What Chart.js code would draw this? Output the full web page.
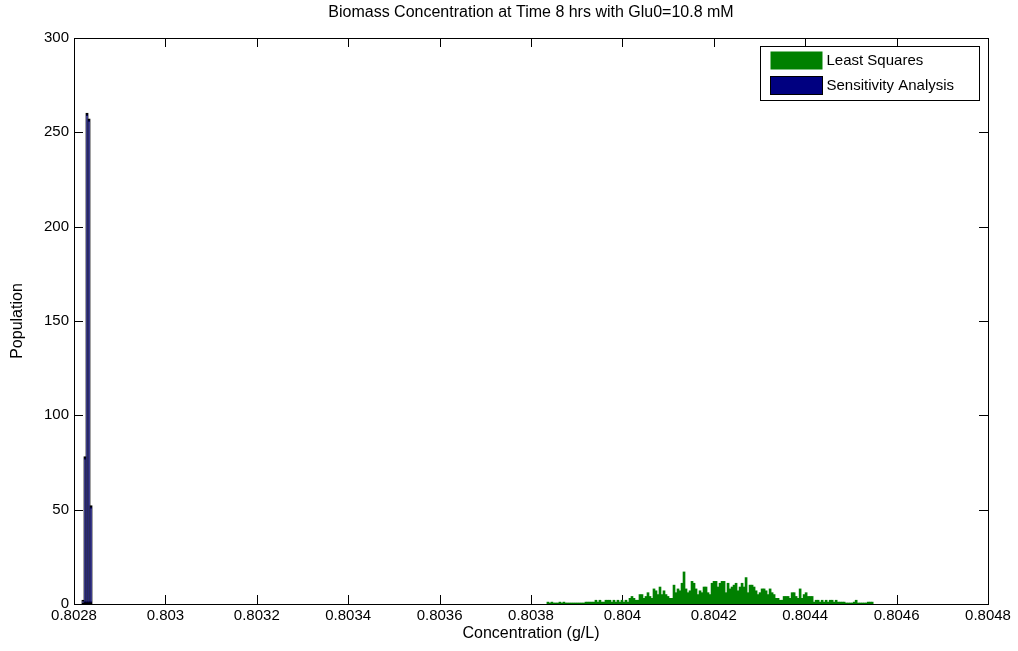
<!DOCTYPE html>
<html>
<head>
<meta charset="utf-8">
<title>Biomass Concentration</title>
<script src="https://cdn.jsdelivr.net/npm/chart.js@4.4.0/dist/chart.umd.min.js"></script>
<style>
  body { margin: 0; background: #fff; }
  #wrap { width: 1018px; height: 651px; }
</style>
</head>
<body>
<div id="wrap"><canvas id="histChart" width="1018" height="651"></canvas></div>
<script>
const chartTitle = 'Biomass Concentration at Time 8 hrs with Glu0=10.8 mM';
const xAxisTitle = 'Concentration (g/L)';
const yAxisTitle = 'Population';

// histogram bins (same width for both series)
const binWidth = 0.00000438;

// Least Squares
const lsLabel = 'Least Squares';
const lsFirstBin = 0.803837;
const lsCounts = [
  1, 0, 1, 0, 0, 0, 1, 0, 1, 0, 0, 0, 0, 0, 0, 0, 0, 0, 0, 1, 1, 1, 1, 1, 2, 1,
  2, 1, 1, 2, 2, 2, 1, 2, 1, 2, 1,
  2, 1, 2, 1, 3, 4, 3, 2, 2, 5, 5, 3, 4, 6, 4, 3, 8, 7, 5, 9, 5,
  7, 5, 4, 3, 3, 10, 6, 8, 7, 11, 17, 8, 6, 7, 12, 11, 8, 5, 7, 6, 9, 9, 6, 5, 11, 12, 12, 9, 11,
  12, 12, 6, 11, 8, 9, 10, 11, 7, 9, 11, 9, 14, 6, 10, 10, 9, 7, 5, 6, 8, 8, 7, 5, 8, 6, 5, 3, 3, 2,
  2, 4, 4, 4, 3, 6, 6, 4, 3, 8, 3, 5, 6, 4, 4, 4, 1, 2, 2, 1, 2, 1, 2, 1, 2, 2, 1, 2, 1, 1,
  1, 1, 0, 0, 0, 0, 1, 2, 0, 0, 0, 0, 0, 1, 1, 1
];

// Sensitivity Analysis
const saLabel = 'Sensitivity Analysis';
const saFirstBin = 0.8028197;
const saCounts = [2, 78, 260, 257, 52];

const xTicks = [0.8028, 0.803, 0.8032, 0.8034, 0.8036, 0.8038, 0.804, 0.8042, 0.8044, 0.8046, 0.8048];
const xTickLabels = ['0.8028', '0.803', '0.8032', '0.8034', '0.8036', '0.8038', '0.804', '0.8042', '0.8044', '0.8046', '0.8048'];
const yTicks = [0, 50, 100, 150, 200, 250, 300];

const fontFamily = "'Liberation Sans', Arial, Helvetica, sans-serif";

const toBins = (first, counts) => counts.map((c, i) => ({ x: first + i * binWidth, y: c }));

// box, inward tick marks, title and legend like the matlab figure
const matlabFrame = {
  id: 'matlabFrame',
  beforeDatasetsDraw(chart) {
    const { ctx, chartArea: a, scales } = chart;
    const len = 9;
    ctx.save();
    ctx.strokeStyle = '#000';
    ctx.lineWidth = 1;
    ctx.beginPath();
    xTicks.forEach(v => {
      const px = Math.round(scales.x.getPixelForValue(v)) + 0.5;
      ctx.moveTo(px, a.bottom); ctx.lineTo(px, a.bottom - len);
      ctx.moveTo(px, a.top); ctx.lineTo(px, a.top + len);
    });
    yTicks.forEach(v => {
      const py = Math.round(scales.y.getPixelForValue(v)) + 0.5;
      ctx.moveTo(a.left, py); ctx.lineTo(a.left + len, py);
      ctx.moveTo(a.right, py); ctx.lineTo(a.right - len, py);
    });
    ctx.stroke();
    ctx.strokeRect(Math.round(a.left) + 0.5, Math.round(a.top) + 0.5,
      Math.round(a.right - a.left), Math.round(a.bottom - a.top));
    ctx.restore();
  },
  afterDraw(chart) {
    const { ctx, chartArea: a } = chart;
    ctx.save();
    ctx.fillStyle = '#000';
    ctx.font = '16px ' + fontFamily;
    ctx.textAlign = 'center';
    ctx.textBaseline = 'middle';
    ctx.fillText(chartTitle, (a.left + a.right) / 2, 13);

    // legend
    const bx = Math.round(a.right) - 227.5, by = Math.round(a.top) + 8.5;
    ctx.fillStyle = '#fff';
    ctx.fillRect(bx, by, 219, 54);
    ctx.strokeStyle = '#000';
    ctx.strokeRect(bx, by, 219, 54);
    ctx.font = '15px ' + fontFamily;
    ctx.textAlign = 'left';
    chart.data.datasets.forEach((ds, i) => {
      const sy = by + 5 + i * 25;
      ctx.fillStyle = ds.backgroundColor;
      ctx.fillRect(bx + 10, sy, 52, 18);
      if (ds.borderWidth) {
        ctx.strokeStyle = ds.borderColor;
        ctx.lineWidth = 1;
        ctx.strokeRect(bx + 10, sy, 52, 18);
      }
      ctx.fillStyle = '#000';
      ctx.fillText(ds.label, bx + 66, sy + 9);
    });
    ctx.restore();
  }
};

new Chart(document.getElementById('histChart'), {
  type: 'bar',
  data: {
    datasets: [
      {
        label: lsLabel,
        data: toBins(lsFirstBin, lsCounts),
        backgroundColor: '#008000',
        borderWidth: 0,
        minBarLength: 1
      },
      {
        label: saLabel,
        data: toBins(saFirstBin, saCounts),
        backgroundColor: '#000080',
        borderColor: '#000000',
        borderWidth: 2,
        borderSkipped: false,
        inflateAmount: 0.6
      }
    ]
  },
  options: {
    responsive: false,
    animation: false,
    events: [],
    grouped: false,
    barPercentage: 1,
    categoryPercentage: 1,
    layout: { padding: { top: 38, right: 30, left: 0, bottom: 0 } },
    plugins: {
      legend: { display: false },
      title: { display: false },
      tooltip: { enabled: false }
    },
    scales: {
      x: {
        type: 'linear',
        min: 0.8028,
        max: 0.8048,
        offset: false,
        grid: { display: false, drawTicks: false },
        border: { display: false },
        afterBuildTicks: s => { s.ticks = xTicks.map(v => ({ value: v })); },
        afterFit: s => { s.height = 47; },
        ticks: {
          autoSkip: false,
          maxRotation: 0,
          padding: 3,
          color: '#000',
          font: { family: fontFamily, size: 15 },
          callback: (v, i) => xTickLabels[i]
        },
        title: {
          display: true,
          text: xAxisTitle,
          color: '#000',
          font: { family: fontFamily, size: 16 },
          padding: { top: 0, bottom: 8 }
        }
      },
      y: {
        min: 0,
        max: 300,
        grid: { display: false, drawTicks: false },
        border: { display: false },
        afterBuildTicks: s => { s.ticks = yTicks.map(v => ({ value: v })); },
        afterFit: s => { s.width = 74; },
        ticks: {
          padding: 5,
          color: '#000',
          font: { family: fontFamily, size: 15 }
        },
        title: {
          display: true,
          text: yAxisTitle,
          color: '#000',
          font: { family: fontFamily, size: 16 },
          padding: { top: 8, bottom: 0 }
        }
      }
    }
  },
  plugins: [matlabFrame]
});
</script>
</body>
</html>
